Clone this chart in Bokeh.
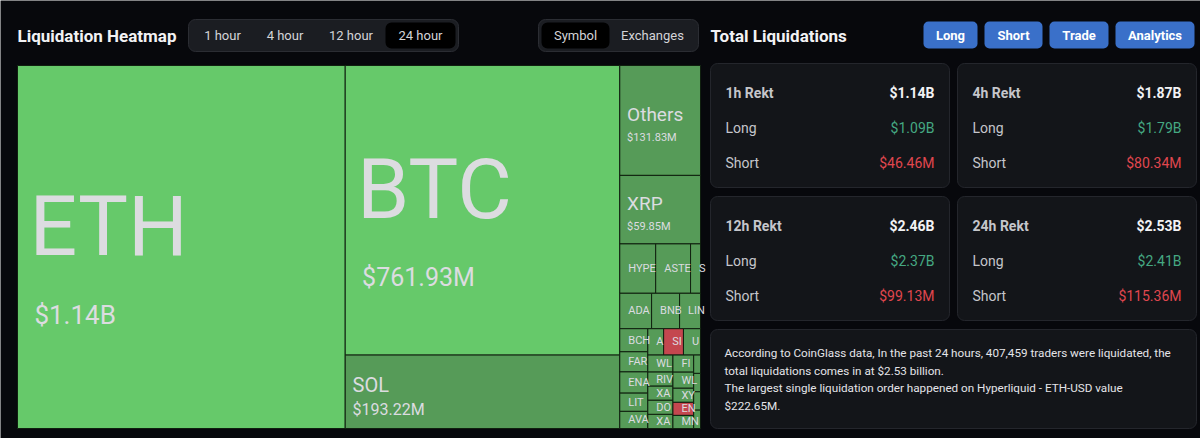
from bokeh.plotting import figure
from bokeh.models import Range1d, ColumnDataSource
from bokeh.core.properties import value
from bokeh.embed import file_html
from bokeh.resources import INLINE

# ---------------- data ----------------
time_tabs = ["1 hour", "4 hour", "12 hour", "24 hour"]
selected_time_tab = "24 hour"
view_tabs = ["Symbol", "Exchanges"]
selected_view_tab = "Symbol"
action_buttons = ["Long", "Short", "Trade", "Analytics"]

# treemap cells (symbol shown, area weight in $M, dominant side, value label)
symbols = ["ETH", "BTC", "SOL", "Others", "XRP",
           "HYPE", "ASTE", "S", "ADA", "BNB", "LIN",
           "BCH", "FAR", "ENA", "LIT", "AVA",
           "A", "SI", "U",
           "WL", "RIV", "XA", "DO", "XA",
           "FI", "WL", "XY", "EN", "MN",
           "", "", "", ""]
sizes = [1140.0, 761.93, 193.22, 85.0, 53.0,
         17.0, 16.5, 4.7, 10.8, 9.5, 7.1,
         6.2, 5.4, 5.7, 4.9, 4.6,
         4.0, 5.0, 4.3,
         4.1, 3.4, 3.4, 3.4, 3.4,
         3.4, 3.2, 2.8, 2.6, 2.6,
         1.2, 1.2, 1.2, 1.2]
sides = ["long+", "long+", "long", "long", "long",
         "long", "long", "long", "long", "long", "long",
         "long", "long", "long", "long", "long",
         "long", "short", "long",
         "long", "long", "long", "long", "long",
         "long", "long", "long", "short", "long",
         "long", "long", "long", "long"]
value_labels = ["$1.14B", "$761.93M", "$193.22M", "$131.83M", "$59.85M"]

periods = ["1h Rekt", "4h Rekt", "12h Rekt", "24h Rekt"]
period_totals = ["$1.14B", "$1.87B", "$2.46B", "$2.53B"]
period_longs = ["$1.09B", "$1.79B", "$2.37B", "$2.41B"]
period_shorts = ["$46.46M", "$80.34M", "$99.13M", "$115.36M"]

summary_lines = [
    "According to CoinGlass data, In the past 24 hours, 407,459 traders were liquidated, the",
    "total liquidations comes in at $2.53 billion.",
    "The largest single liquidation order happened on Hyperliquid - ETH-USD value",
    "$222.65M.",
]

# ---------------- style / layout ----------------
BG = "#07080c"
CARD = "#131519"
CARD_LINE = "#24262c"
TXT = "#f2f2f4"
TXT2 = "#c5c6cb"
GREEN_TXT = "#45a882"
RED_TXT = "#e0474f"
BLUE = "#3a70c9"
FILL = {"long+": "#66c96a", "long": "#569b58", "short": "#c4474f"}
CELL_TXT = "#dcdce0"
UI_FONT = "Roboto"
MAP_FONT = "Roboto"

# nested slice layout of the treemap (h = split along x, v = split along y)
tree = ("h", [0, ("v", [1, 2]),
              ("v", [3, 4, ("h", [5, 6, 7]), ("h", [8, 9, 10]),
                     ("h", [("v", [11, 12, 13, 14, 15]),
                            ("v", [("h", [16, 17, 18]),
                                   ("h", [("v", [19, 20, 21, 22, 23]),
                                          ("v", [24, 25, 26, 27, 28]),
                                          ("v", [29, 30, 31, 32])])])])])])
MAP_X0, MAP_Y0, MAP_X1, MAP_Y1 = 17, 65, 700, 428


def total(node):
    if isinstance(node, int):
        return sizes[node]
    return sum(total(c) for c in node[1])


def layout(node, x0, y0, x1, y1, out):
    if isinstance(node, int):
        out[node] = (x0, y0, x1, y1)
        return
    d, kids = node
    tot = total(node)
    pos = x0 if d == "h" else y0
    for k in kids:
        frac = total(k) / tot
        if d == "h":
            w = (x1 - x0) * frac
            layout(k, pos, y0, pos + w, y1, out)
            pos += w
        else:
            h = (y1 - y0) * frac
            layout(k, x0, pos, x1, pos + h, out)
            pos += h


rects = {}
layout(tree, MAP_X0, MAP_Y0, MAP_X1, MAP_Y1, rects)

p = figure(width=1200, height=438, x_range=Range1d(0, 1200), y_range=Range1d(438, 0),
           output_backend="svg", toolbar_location=None, min_border=0,
           x_axis_type=None, y_axis_type=None)
p.background_fill_color = BG
p.border_fill_color = BG
p.outline_line_color = None

# ---- treemap cells ----
n = len(symbols)
cell = ColumnDataSource(dict(
    left=[rects[i][0] for i in range(n)], right=[rects[i][2] for i in range(n)],
    top=[rects[i][1] for i in range(n)], bottom=[rects[i][3] for i in range(n)],
    color=[FILL[s] for s in sides]))
p.quad(left="left", right="right", top="top", bottom="bottom", fill_color="color",
       line_color="#10200f", line_width=1, source=cell)

# big labels (name + value), positioned by cap centre
name_px = [84, 84, 20, 19, 19]
val_px = [26, 25, 16, 11, 11]
bx, by, bt, bs, vx, vy, vt, vs = [], [], [], [], [], [], [], []
for i, lab in enumerate(value_labels):
    x0, y0, x1, y1 = rects[i]
    cy = (y0 + y1) / 2
    fn, fv = name_px[i], val_px[i]
    d = 1.05 * fn if fn > 40 else 1.2 * fn
    mid = cy + 0.28 * fn
    npad = 6 + 0.07 * fn
    vpad = npad + (5 if fv > 20 else 0)
    bx.append(x0 + npad); by.append(mid - d / 2); bt.append(symbols[i]); bs.append(f"{fn}px")
    vx.append(x0 + vpad); vy.append(mid + d / 2); vt.append(lab); vs.append(f"{fv}px")
p.text(x=bx, y=by, text=bt, text_font_size=bs, text_color=CELL_TXT,
       text_font=value(MAP_FONT), text_baseline="middle")
p.text(x=vx, y=vy, text=vt, text_font_size=vs, text_color=CELL_TXT,
       text_font=value(MAP_FONT), text_baseline="middle")

# small labels
sx, sy, st = [], [], []
for i in range(len(value_labels), n):
    if not symbols[i]:
        continue
    x0, y0, x1, y1 = rects[i]
    sx.append(x0 + 8.5); sy.append((y0 + y1) / 2); st.append(symbols[i])
p.text(x=sx, y=sy, text=st, text_font_size="11px", text_color=CELL_TXT,
       text_font=value(MAP_FONT), text_baseline="middle")

# ---- header left ----
p.text(x=[17], y=[35], text=["Liquidation Heatmap"], text_font_size="17px",
       text_font_style="bold", text_color=TXT, text_font=value(UI_FONT), text_baseline="middle")


def segmented(x0, labels, widths, selected):
    total_w = sum(widths) + 6
    p.quad(left=[x0], right=[x0 + total_w], top=[19], bottom=[51], fill_color="#1b1d22",
           line_color="#2b2d33", line_width=1, border_radius=7)
    cx = x0 + 3
    xs = []
    for lab, w in zip(labels, widths):
        if lab == selected:
            p.quad(left=[cx], right=[cx + w], top=[22], bottom=[48], fill_color="#000000",
                   line_color=None, border_radius=6)
        xs.append(cx + w / 2)
        cx += w
    p.text(x=xs, y=[35] * len(xs), text=labels, text_font_size="13px", text_color="#d4d4d8",
           text_font=value(UI_FONT), text_align="center", text_baseline="middle")


segmented(188, time_tabs, [62, 63, 69, 70], selected_time_tab)
segmented(538, view_tabs, [68, 86], selected_view_tab)

# ---- header right ----
p.text(x=[710], y=[35], text=["Total Liquidations"], text_font_size="17px",
       text_font_style="bold", text_color=TXT, text_font=value(UI_FONT), text_baseline="middle")
btn_w = [54, 58, 59, 79]
bx0 = 923
lefts, rights, cxs = [], [], []
for w in btn_w:
    lefts.append(bx0); rights.append(bx0 + w); cxs.append(bx0 + w / 2)
    bx0 += w + 7
p.quad(left=lefts, right=rights, top=[21] * 4, bottom=[48] * 4, fill_color=BLUE,
       line_color=None, border_radius=5)
p.text(x=cxs, y=[34.5] * 4, text=action_buttons, text_font_size="13px", text_font_style="bold",
       text_color="#ffffff", text_font=value(UI_FONT), text_align="center", text_baseline="middle")

# ---- cards ----
CW, CH = 239, 124
cl, cr, ct, cb = [], [], [], []
lx, ly, lt, lc = [], [], [], []
rx, ry, rt, rc = [], [], [], []
for k in range(4):
    x0 = 710 + (k % 2) * 247
    y0 = 63 + (k // 2) * 133
    cl.append(x0); cr.append(x0 + CW); ct.append(y0); cb.append(y0 + CH)
    rows = [(periods[k], period_totals[k], TXT), ("Long", period_longs[k], GREEN_TXT),
            ("Short", period_shorts[k], RED_TXT)]
    for j, (a, b, col) in enumerate(rows):
        yy = y0 + 29 + j * 35
        lx.append(x0 + 15); ly.append(yy); lt.append(a); lc.append(TXT2)
        rx.append(x0 + 224); ry.append(yy); rt.append(b); rc.append(col)
p.quad(left=cl, right=cr, top=ct, bottom=cb, fill_color=CARD, line_color=CARD_LINE,
       line_width=1, border_radius=7)
body = [j for j in range(len(lt)) if j % 3 != 0]
head = [j for j in range(len(lt)) if j % 3 == 0]
p.text(x=[lx[j] for j in body], y=[ly[j] for j in body], text=[lt[j] for j in body],
       text_color=TXT2, text_font_size="14px", text_font=value(UI_FONT), text_baseline="middle")
p.text(x=[rx[j] for j in body], y=[ry[j] for j in body], text=[rt[j] for j in body],
       text_color=[rc[j] for j in body], text_font_size="14px", text_font=value(UI_FONT),
       text_align="right", text_baseline="middle")
p.text(x=[lx[j] for j in head], y=[ly[j] for j in head], text=[lt[j] for j in head],
       text_color=TXT2, text_font_size="14px", text_font_style="bold",
       text_font=value(UI_FONT), text_baseline="middle")
p.text(x=[rx[j] for j in head], y=[ry[j] for j in head], text=[rt[j] for j in head],
       text_color=TXT, text_font_size="14px", text_font_style="bold",
       text_font=value(UI_FONT), text_align="right", text_baseline="middle")

# ---- summary box ----
p.quad(left=[710], right=[1196], top=[329], bottom=[428], fill_color=CARD,
       line_color=CARD_LINE, line_width=1, border_radius=7)
p.text(x=[724] * len(summary_lines), y=[352.5 + 17.5 * i for i in range(len(summary_lines))],
       text=summary_lines, text_color="#e4e4e8", text_font_size="11.7px",
       text_font=value(UI_FONT), text_baseline="middle")

open("out.html", "w").write(file_html(p, INLINE))
